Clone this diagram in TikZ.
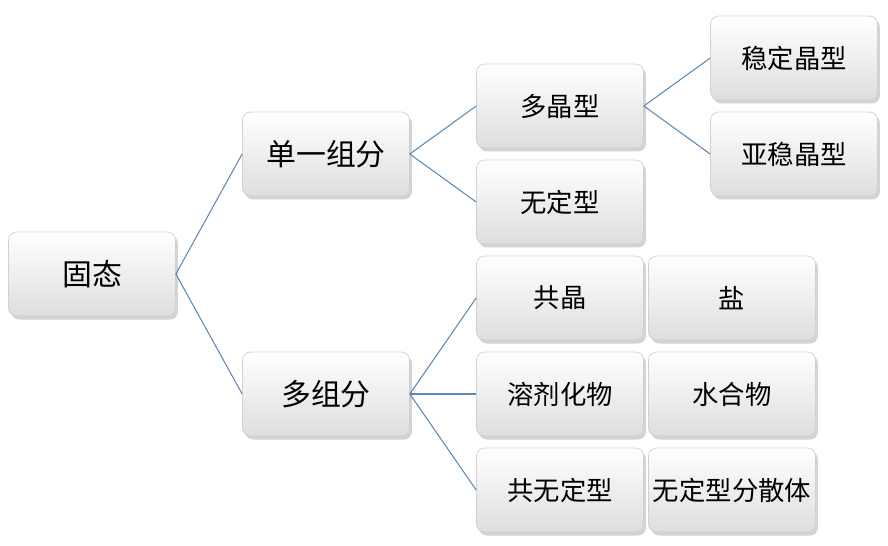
\documentclass[tikz,border=0pt]{standalone}
\usepackage{fontspec}
\setmainfont{Noto Sans CJK SC}
\usetikzlibrary{positioning}
\usetikzlibrary{shadows}
\definecolor{linkblue}{RGB}{95,135,180}
\tikzset{
  box/.style  = { rectangle, minimum width=3.34cm, minimum height=1.68cm, inner sep=0pt },
  round/.style = { rounded corners=1.6mm },
  state/.style = { box, round, draw=black!18, top color=white, bottom color=black!13,
                   drop shadow={shadow xshift=0.5mm, shadow yshift=-0.7mm, opacity=0.35},
                   font=\fontsize{15}{18}\selectfont },
  top/.style   = { state, font=\fontsize{17}{20}\selectfont },
  link/.style  = { draw=linkblue, line width=0.6pt }
}
\begin{document}
\begin{tikzpicture}[x=0.02cm,y=-0.02cm]
  \useasboundingbox (0,0) rectangle (888,545);
  \node (solid)  [top]   at (92,274)  {固态};
  \node (single) [top]   at (326,154) {单一组分};
  \node (multi)  [top]   at (326,394) {多组分};
  \node (poly)   [state] at (560,106) {多晶型};
  \node (amor)   [state] at (560,202) {无定型};
  \node (stable) [state] at (794,58)  {稳定晶型};
  \node (meta)   [state] at (794,154) {亚稳晶型};
  \node (cocr)   [state] at (560,298) {共晶};
  \node (solv)   [state] at (560,394) {溶剂化物};
  \node (coam)   [state] at (560,490) {共无定型};
  \node (salt)   [state] at (732,298) {盐};
  \node (hydr)   [state] at (732,394) {水合物};
  \node (disp)   [state] at (732,490) {无定型分散体};

  \draw [link] (solid.east)  -- (single.west);
  \draw [link] (solid.east)  -- (multi.west);
  \draw [link] (single.east) -- (poly.west);
  \draw [link] (single.east) -- (amor.west);
  \draw [link] (poly.east)   -- (stable.west);
  \draw [link] (poly.east)   -- (meta.west);
  \draw [link] (multi.east)  -- (cocr.west);
  \draw [link] (multi.east)  -- (solv.west);
  \draw [link] (multi.east)  -- (coam.west);
\end{tikzpicture}
\end{document}
